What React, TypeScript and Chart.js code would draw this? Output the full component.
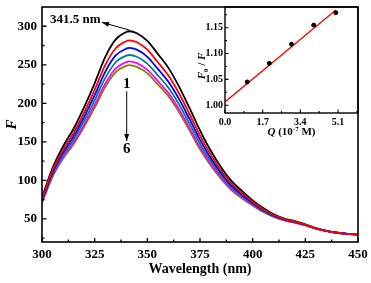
import React, { useEffect, useRef } from "react";
import { Chart, registerables } from "chart.js";

Chart.register(...registerables);

const FONT = "'Liberation Serif', 'Times New Roman', serif";

// Main spectra (wavelength in nm, fluorescence intensity F)
const wavelengths = [300, 305, 310, 315, 320, 325, 330, 335, 340, 341.5, 345, 350, 355, 360, 365, 370, 375, 380, 385, 390, 395, 400, 405, 410, 415, 420, 425, 430, 435, 440, 445, 450];
const curve1 = [78, 116, 144, 167, 195, 226, 260, 283, 292.5, 293.5, 291, 281, 264, 246, 222, 194, 165, 139, 117, 99, 86, 74, 64, 56, 50.5, 47, 43, 38, 34.5, 32, 30.5, 29.5];
const curve2 = [76.1, 112.9, 139.7, 161.6, 188.1, 217.5, 249.5, 271.5, 280.6, 281.6, 279.2, 269.6, 253.3, 236.0, 213.0, 186.1, 158.3, 133.7, 112.9, 95.8, 83.4, 72.2, 62.6, 55.1, 49.8, 46.5, 42.6, 37.8, 34.4, 32, 30.5, 29.5];
const curve3 = [74.6, 110.3, 136.3, 157.2, 182.6, 210.5, 240.9, 262.2, 271.0, 272.0, 269.6, 260.3, 244.6, 227.9, 205.7, 179.7, 152.8, 129.4, 109.6, 93.2, 81.3, 70.7, 61.5, 54.3, 49.3, 46.1, 42.4, 37.6, 34.3, 32, 30.5, 29.5];
const curve4 = [73.1, 107.9, 132.9, 153.0, 177.2, 203.9, 232.7, 253.3, 261.8, 262.7, 260.4, 251.5, 236.3, 220.2, 198.7, 173.6, 147.6, 125.4, 106.4, 90.7, 79.4, 69.3, 60.4, 53.6, 48.7, 45.7, 42.1, 37.4, 34.3, 32, 30.5, 29.5];
const curve5 = [71.8, 105.7, 129.9, 149.2, 172.4, 197.9, 225.3, 245.2, 253.4, 254.3, 252.1, 243.4, 228.8, 213.2, 192.4, 168.1, 142.9, 121.6, 103.5, 88.4, 77.5, 68.0, 59.5, 53.0, 48.3, 45.3, 41.8, 37.3, 34.2, 32, 30.5, 29.6];
const curve6 = [71.0, 104.4, 128.2, 147.0, 169.6, 194.4, 221.0, 240.5, 248.6, 249.5, 247.3, 238.8, 224.4, 209.1, 188.7, 164.9, 140.2, 119.5, 101.8, 87.1, 76.5, 67.3, 58.9, 52.6, 48.0, 45.1, 41.7, 37.2, 34.2, 32, 30.5, 29.5];
const curves = [curve1, curve2, curve3, curve4, curve5, curve6];
const curveColors = ["#000000", "#ff0000", "#0000ff", "#008080", "#ff00ff", "#808000"];

const xTicks = [300, 325, 350, 375, 400, 425, 450];
const yTicks = [50, 100, 150, 200, 250, 300];

// Annotations (data coordinates)
const peakLabel = "341.5 nm";
const peakPoint = [341.5, 295];
const peakLabelPos = [303.8, 308.5];
const peakArrowEnd = [328.5, 305];
const arrowLabelTop = "1";
const arrowLabelBottom = "6";
const arrowX = 340.2;
const arrowYs = [224.5, 215.5, 151, 141];

// Inset Stern-Volmer data
const insetQ = [1, 2, 3, 4, 5];
const insetRatio = [1.045, 1.081, 1.118, 1.155, 1.179];
const fitQ = [0, 5];
const fitRatio = [1.0065, 1.184];
const insetXTicks = [0, 1.7, 3.4, 5.1];
const insetYTicks = [1.0, 1.05, 1.1, 1.15];

function drawArrowHead(ctx: CanvasRenderingContext2D, x1: number, y1: number, x2: number, y2: number, len: number, w: number) {
  const ang = Math.atan2(y2 - y1, x2 - x1);
  ctx.beginPath();
  ctx.moveTo(x2, y2);
  ctx.lineTo(x2 - len * Math.cos(ang) + w * Math.sin(ang), y2 - len * Math.sin(ang) - w * Math.cos(ang));
  ctx.lineTo(x2 - len * Math.cos(ang) - w * Math.sin(ang), y2 - len * Math.sin(ang) + w * Math.cos(ang));
  ctx.closePath();
  ctx.fill();
}

function zeroPad(s: any) {
  s.paddingTop = 0;
  s.paddingBottom = 0;
  s.paddingLeft = 0;
  s.paddingRight = 0;
}

const mainDecor = {
  id: "mainDecor",
  afterDraw(chart: any) {
    const { ctx, chartArea: a, scales } = chart;
    const x = scales.x;
    const y = scales.y;
    ctx.save();
    ctx.strokeStyle = "#000";
    ctx.fillStyle = "#000";
    ctx.lineWidth = 1.6;
    ctx.strokeRect(a.left, a.top, a.right - a.left, a.bottom - a.top);
    ctx.lineWidth = 1.3;
    ctx.beginPath();
    xTicks.forEach((v) => {
      const p = x.getPixelForValue(v);
      ctx.moveTo(p, a.bottom);
      ctx.lineTo(p, a.bottom - 4);
    });
    for (let i = 0; i < xTicks.length - 1; i++) {
      const p = x.getPixelForValue((xTicks[i] + xTicks[i + 1]) / 2);
      ctx.moveTo(p, a.bottom);
      ctx.lineTo(p, a.bottom - 2.5);
    }
    yTicks.forEach((v) => {
      const p = y.getPixelForValue(v);
      ctx.moveTo(a.left, p);
      ctx.lineTo(a.left + 4.5, p);
    });
    [25, ...yTicks.map((v) => v + 25)].forEach((v) => {
      if (v >= y.max) return;
      const p = y.getPixelForValue(v);
      ctx.moveTo(a.left, p);
      ctx.lineTo(a.left + 2.5, p);
    });
    ctx.stroke();

    // Peak annotation
    ctx.font = `bold 13px ${FONT}`;
    ctx.textAlign = "left";
    ctx.textBaseline = "middle";
    ctx.fillText(peakLabel, x.getPixelForValue(peakLabelPos[0]), y.getPixelForValue(peakLabelPos[1]));
    const px1 = x.getPixelForValue(peakPoint[0]);
    const py1 = y.getPixelForValue(peakPoint[1]);
    const px2 = x.getPixelForValue(peakArrowEnd[0]);
    const py2 = y.getPixelForValue(peakArrowEnd[1]);
    ctx.lineWidth = 1;
    ctx.beginPath();
    ctx.moveTo(px1, py1);
    ctx.lineTo(px2, py2);
    ctx.stroke();
    drawArrowHead(ctx, px1, py1, px2, py2, 7, 2.5);

    // 1 -> 6 arrow
    const ax = x.getPixelForValue(arrowX);
    ctx.font = `bold 15px ${FONT}`;
    ctx.textAlign = "center";
    ctx.fillText(arrowLabelTop, ax, y.getPixelForValue(arrowYs[0]));
    ctx.fillText(arrowLabelBottom, ax, y.getPixelForValue(arrowYs[3]));
    const ay1 = y.getPixelForValue(arrowYs[1]);
    const ay2 = y.getPixelForValue(arrowYs[2]);
    ctx.beginPath();
    ctx.moveTo(ax, ay1);
    ctx.lineTo(ax, ay2);
    ctx.stroke();
    drawArrowHead(ctx, ax, ay1, ax, ay2, 7, 2.5);
    ctx.restore();
  },
};

const insetDecor = {
  id: "insetDecor",
  afterDraw(chart: any) {
    const { ctx, chartArea: a, scales } = chart;
    const x = scales.x;
    const y = scales.y;
    ctx.save();
    ctx.strokeStyle = "#000";
    ctx.fillStyle = "#000";
    ctx.lineWidth = 1.4;
    ctx.strokeRect(a.left, a.top, a.right - a.left, a.bottom - a.top);
    ctx.lineWidth = 1.1;
    ctx.beginPath();
    insetXTicks.forEach((v) => {
      const p = x.getPixelForValue(v);
      ctx.moveTo(p, a.bottom);
      ctx.lineTo(p, a.bottom - 3.5);
    });
    for (let i = 0; i < insetXTicks.length; i++) {
      const v = insetXTicks[i] + 0.85;
      if (v >= x.max) continue;
      const p = x.getPixelForValue(v);
      ctx.moveTo(p, a.bottom);
      ctx.lineTo(p, a.bottom - 2);
    }
    insetYTicks.forEach((v) => {
      const p = y.getPixelForValue(v);
      ctx.moveTo(a.left, p);
      ctx.lineTo(a.left + 3.5, p);
    });
    insetYTicks.forEach((v) => {
      const m = v + 0.025;
      if (m >= y.max) return;
      const p = y.getPixelForValue(m);
      ctx.moveTo(a.left, p);
      ctx.lineTo(a.left + 2, p);
    });
    ctx.stroke();

    // X title: Q (10^-7 M)
    ctx.textBaseline = "alphabetic";
    ctx.textAlign = "left";
    const parts: [string, string, number][] = [
      ["Q", `italic bold 11px ${FONT}`, 0],
      [" (10", `bold 11px ${FONT}`, 0],
      ["-7", `bold 7px ${FONT}`, -4],
      [" M)", `bold 11px ${FONT}`, 0],
    ];
    let total = 0;
    parts.forEach(([t, f]) => {
      ctx.font = f;
      total += ctx.measureText(t).width;
    });
    let cx = (a.left + a.right) / 2 - total / 2;
    const baseY = a.bottom + 22;
    parts.forEach(([t, f, dy]) => {
      ctx.font = f;
      ctx.fillText(t, cx, baseY + dy);
      cx += ctx.measureText(t).width;
    });

    // Y title: F0 / F (rotated)
    ctx.save();
    ctx.translate(a.left - 24, (a.top + a.bottom) / 2 + 6);
    ctx.rotate(-Math.PI / 2);
    const yparts: [string, string, number][] = [
      ["F", `italic bold 11px ${FONT}`, 0],
      ["0", `bold 7px ${FONT}`, 3],
      [" / ", `bold 11px ${FONT}`, 0],
      ["F", `italic bold 11px ${FONT}`, 0],
    ];
    let tw = 0;
    yparts.forEach(([t, f]) => {
      ctx.font = f;
      tw += ctx.measureText(t).width;
    });
    let yx = -tw / 2;
    yparts.forEach(([t, f, dy]) => {
      ctx.font = f;
      ctx.fillText(t, yx, 4 + dy);
      yx += ctx.measureText(t).width;
    });
    ctx.restore();
    ctx.restore();
  },
};

export default function App() {
  const mainRef = useRef<HTMLCanvasElement | null>(null);
  const insetRef = useRef<HTMLCanvasElement | null>(null);

  useEffect(() => {
    if (!mainRef.current || !insetRef.current) return;
    const main = new Chart(mainRef.current, {
      type: "line",
      data: {
        datasets: curves.map((c, i) => ({
          data: wavelengths.map((w, j) => ({ x: w, y: c[j] })),
          borderColor: curveColors[i],
          borderWidth: 1.8,
          pointRadius: 0,
          fill: false,
          cubicInterpolationMode: "monotone" as const,
          order: i === 0 ? 10 : i,
        })),
      },
      options: {
        responsive: false,
        animation: false,
        devicePixelRatio: 1,
        layout: { padding: { top: 7, right: 13, left: 0, bottom: 0 } },
        plugins: { legend: { display: false }, tooltip: { enabled: false } },
        scales: {
          x: {
            type: "linear",
            min: 300,
            max: 450,
            grid: { display: false, drawTicks: false },
            border: { display: false },
            afterBuildTicks: (s: any) => {
              s.ticks = xTicks.map((v) => ({ value: v }));
            },
            afterFit: (s: any) => {
              s.height = 41;
              zeroPad(s);
            },
            ticks: {
              font: { family: FONT, size: 13, weight: "bold" },
              color: "#000",
              padding: 5,
              maxRotation: 0,
              autoSkip: false,
            },
            title: {
              display: true,
              text: "Wavelength (nm)",
              font: { family: FONT, size: 14, weight: "bold" },
              color: "#000",
              padding: { top: 0, bottom: 5 },
            },
          },
          y: {
            type: "linear",
            min: 20,
            max: 325,
            grid: { display: false, drawTicks: false },
            border: { display: false },
            afterBuildTicks: (s: any) => {
              s.ticks = yTicks.map((v) => ({ value: v }));
            },
            afterFit: (s: any) => {
              s.width = 42;
              zeroPad(s);
            },
            ticks: {
              font: { family: FONT, size: 13, weight: "bold" },
              color: "#000",
              padding: 5,
            },
            title: {
              display: true,
              text: "F",
              font: { family: FONT, size: 15, weight: "bold", style: "italic" },
              color: "#000",
              padding: { top: 3, bottom: 0 },
            },
          },
        },
      },
      plugins: [mainDecor],
    } as any);

    const inset = new Chart(insetRef.current, {
      type: "scatter",
      data: {
        datasets: [
          {
            data: insetQ.map((q, i) => ({ x: q, y: insetRatio[i] })),
            backgroundColor: "#000",
            borderColor: "#000",
            pointRadius: 2,
            showLine: false,
          },
          {
            data: fitQ.map((q, i) => ({ x: q, y: fitRatio[i] })),
            borderColor: "#ff0000",
            borderWidth: 1.3,
            pointRadius: 0,
            showLine: true,
          },
        ],
      },
      options: {
        responsive: false,
        animation: false,
        devicePixelRatio: 1,
        layout: { padding: { top: 7, right: 13, left: 0, bottom: 0 } },
        plugins: { legend: { display: false }, tooltip: { enabled: false } },
        scales: {
          x: {
            type: "linear",
            min: 0,
            max: 6,
            grid: { display: false, drawTicks: false },
            border: { display: false },
            afterBuildTicks: (s: any) => {
              s.ticks = insetXTicks.map((v) => ({ value: v }));
            },
            afterFit: (s: any) => {
              s.height = 27;
              zeroPad(s);
            },
            ticks: {
              font: { family: FONT, size: 10, weight: "bold" },
              color: "#000",
              padding: 3,
              maxRotation: 0,
              autoSkip: false,
              callback: (v: any) => Number(v).toFixed(1),
            },
          },
          y: {
            type: "linear",
            min: 0.985,
            max: 1.19,
            grid: { display: false, drawTicks: false },
            border: { display: false },
            afterBuildTicks: (s: any) => {
              s.ticks = insetYTicks.map((v) => ({ value: v }));
            },
            afterFit: (s: any) => {
              s.width = 35;
              zeroPad(s);
            },
            ticks: {
              font: { family: FONT, size: 10, weight: "bold" },
              color: "#000",
              padding: 2,
              callback: (v: any) => Number(v).toFixed(2),
            },
          },
        },
      },
      plugins: [insetDecor],
    } as any);

    return () => {
      main.destroy();
      inset.destroy();
    };
  }, []);

  return (
    <div style={{ position: "fixed", left: 0, top: 0, width: 371, height: 283, background: "#fff" }}>
      <canvas ref={mainRef} width={371} height={283} style={{ position: "absolute", left: 0, top: 0 }} />
      <canvas ref={insetRef} width={181} height={140} style={{ position: "absolute", left: 190, top: 0 }} />
    </div>
  );
}
